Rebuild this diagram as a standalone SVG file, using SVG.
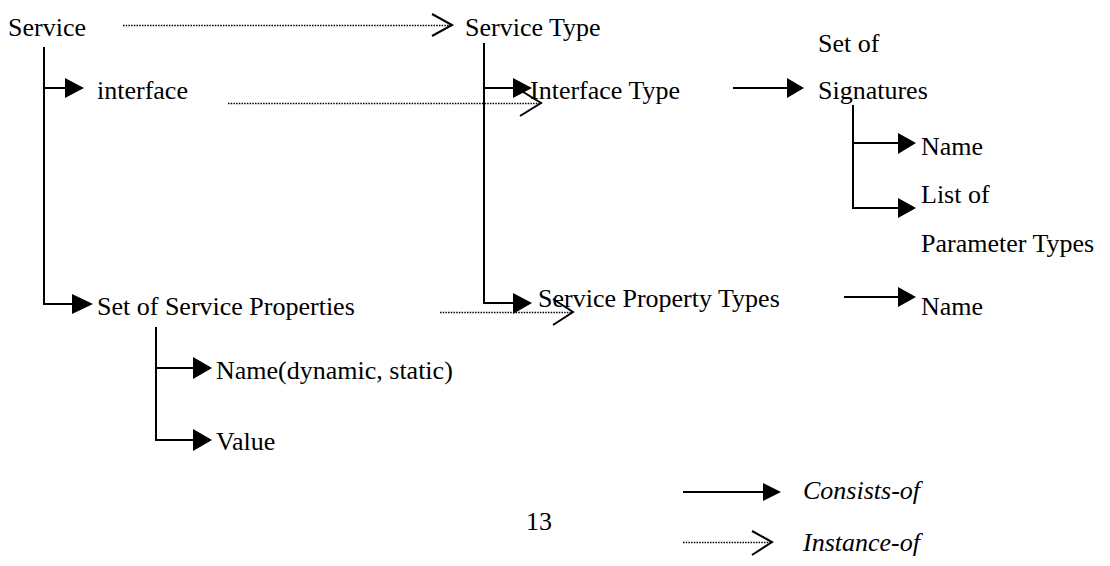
<svg xmlns="http://www.w3.org/2000/svg" width="1110" height="566" viewBox="0 0 1110 566">
<style>
  .t { font-family: 'Liberation Serif', 'DejaVu Serif', 'Times New Roman', serif; font-size: 26px; fill: #000; }
  .it { font-style: italic; }
  .solid { stroke: #000; stroke-width: 2; fill: none; }
  .dot { stroke: #000; stroke-width: 1.5; stroke-dasharray: 1.5 1.2; fill: none; }
  .open { stroke: #000; stroke-width: 2; fill: none; stroke-linejoin: miter; }
  .head { fill: #000; stroke: none; }
</style>
<rect width="1110" height="566" fill="#fff"/>

<g id="connectors">
  <path class="solid" d="M44 47 V304 H72"/>
  <path class="solid" d="M44 88 H65"/>
  <polygon class="head" points="65,78 84,88 65,98"/>
  <polygon class="head" points="72,294 93,304 72,314"/>

  <path class="solid" d="M156 327 V440 H193"/>
  <path class="solid" d="M156 368 H193"/>
  <polygon class="head" points="193,357 212,368 193,379"/>
  <polygon class="head" points="193,429 212,440 193,451"/>

  <path class="solid" d="M484 43 V303 H513"/>
  <path class="solid" d="M484 88 H513"/>

  <path class="solid" d="M733 88 H787"/>
  <polygon class="head" points="787,78 804,88 787,98"/>

  <path class="solid" d="M853 105 V208 H898"/>
  <path class="solid" d="M853 143 H898"/>
  <polygon class="head" points="898,133 916,143 898,154"/>
  <polygon class="head" points="898,198 916,208 898,218"/>

  <path class="solid" d="M844 297 H898"/>
  <polygon class="head" points="898,287 916,297 898,307"/>

  <path class="dot" d="M123 25.5 H451"/>
  <path class="open" d="M432 14 L452 25 L432 36"/>

  <path class="dot" d="M228 103.5 H539"/>
  <path class="open" d="M520 90 L541 103 L520 116"/>

  <path class="dot" d="M440 312.5 H571"/>
  <path class="open" d="M553 299 L573 312 L553 325"/>

  <polygon class="head" points="513,78 532,88 513,98"/>
  <polygon class="head" points="513,293 532,303 513,314"/>

  <path class="solid" d="M683 492 H765"/>
  <polygon class="head" points="763,483 781,492 763,501"/>
  <path class="dot" d="M683 542.5 H770"/>
  <path class="open" d="M752 531 L772 542 L752 555"/>
</g>

<g font-family="Liberation Serif, DejaVu Serif, serif" font-size="26">
<g id="node-service"><text class="t" x="8" y="36">Service</text></g>
<g id="node-service-type"><text class="t" x="465" y="36">Service Type</text></g>
<g id="node-interface"><text class="t" x="97" y="99">interface</text></g>
<g id="node-interface-type"><text class="t" x="530" y="99">Interface Type</text></g>
<g id="node-signatures"><text class="t" x="818" y="52">Set of</text><text class="t" x="818" y="99">Signatures</text></g>
<g id="node-sig-name"><text class="t" x="921" y="155">Name</text></g>
<g id="node-param-types"><text class="t" x="921" y="203">List of</text><text class="t" x="921" y="252">Parameter Types</text></g>
<g id="node-service-props"><text class="t" x="97" y="315">Set of Service Properties</text></g>
<g id="node-service-prop-types"><text class="t" x="538" y="307">Service Property Types</text></g>
<g id="node-prop-type-name"><text class="t" x="921" y="315">Name</text></g>
<g id="node-prop-name"><text class="t" x="216" y="379">Name(dynamic, static)</text></g>
<g id="node-prop-value"><text class="t" x="216" y="450">Value</text></g>
<g id="page-number"><text class="t" x="526" y="530">13</text></g>
<g id="legend">
  <text class="t it" x="803" y="499">Consists-of</text>
  <text class="t it" x="803" y="551">Instance-of</text>
</g>
</g>
</svg>
